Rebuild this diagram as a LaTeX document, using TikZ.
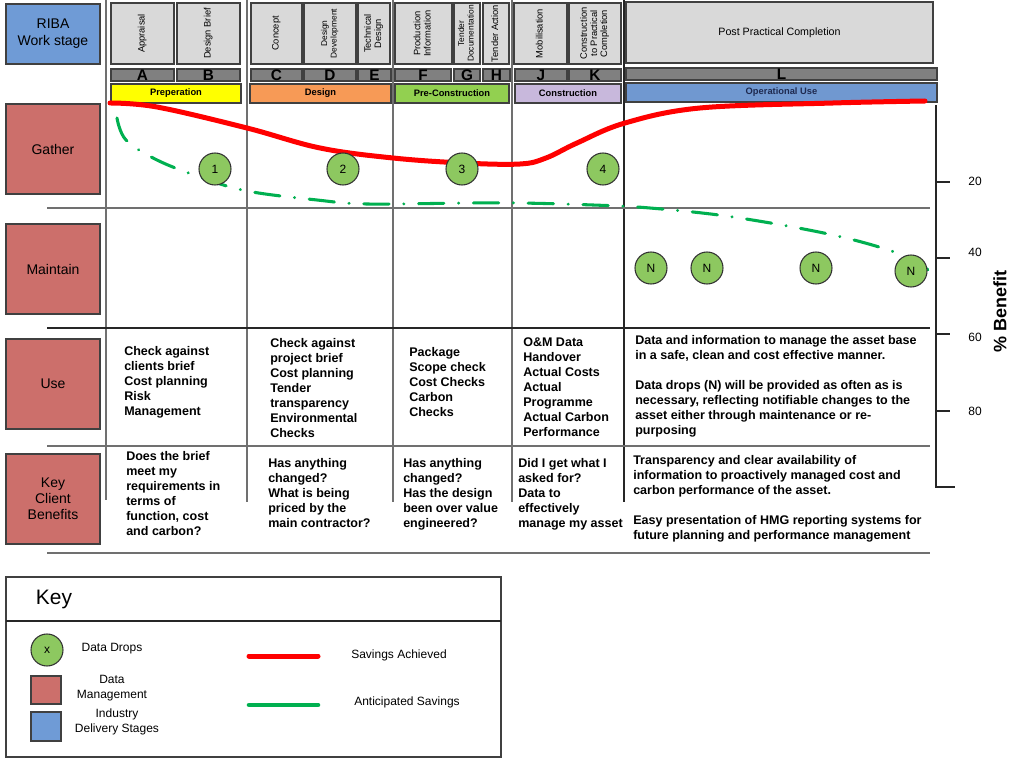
\documentclass[tikz,border=0pt]{standalone}
\usepackage{fontspec}
\setmainfont{Liberation Sans}
\definecolor{ribablue}{HTML}{6F9BD6}
\definecolor{mgmtred}{HTML}{CC6F6B}
\definecolor{hdrgray}{HTML}{D9D9D9}
\definecolor{bargray}{HTML}{808080}
\definecolor{prepyellow}{HTML}{FFFF00}
\definecolor{desorange}{HTML}{F79A56}
\definecolor{pregreen}{HTML}{92D050}
\definecolor{conlilac}{HTML}{C8B8DC}
\definecolor{opblue}{HTML}{7098D0}
\definecolor{dropgreen}{HTML}{8DC860}
\definecolor{savred}{HTML}{FF0000}
\definecolor{antgreen}{HTML}{00B050}
\definecolor{gridgray}{HTML}{707070}
\definecolor{navytxt}{HTML}{1F2A50}
\newcommand\bx[7]{\node[#6, minimum width={(#4-#2)*0.75pt}, minimum height={(#5-#3)*0.75pt}, inner sep=0pt, outer sep=0pt] (#1) at ({(#2+#4)/2},{(#3+#5)/2}) {#7};}
\newcommand\rot[1]{\rotatebox{90}{\begin{tabular}{@{}c@{}}#1\end{tabular}}}
\newcommand\lowlet[1]{\raisebox{-1.5pt}{#1}}
\tikzset{
  boxline/.style={draw=black!75, line width=0.8pt},
  hdrbox/.style={boxline, fill=hdrgray, font=\fontsize{7}{7.6}\selectfont},
  tightfont/.style={font=\fontsize{6.3}{7}\selectfont},
  letterbar/.style={boxline, fill=bargray, font=\fontsize{11.5}{11.5}\selectfont\bfseries},
  stagebar/.style={boxline, font=\fontsize{7}{7.5}\selectfont\bfseries},
  rowlbl/.style={boxline, fill=mgmtred, font=\fontsize{10.5}{12}\selectfont, align=center},
  gridline/.style={draw=gridgray, line width=1.1pt},
  darkline/.style={draw=black!85, line width=0.8pt},
  bodytxt/.style={anchor=north west, align=left, inner sep=0pt, font=\fontsize{9.4}{11.25}\selectfont\bfseries},
  drop/.style={circle, draw=black!80, line width=0.8pt, fill=dropgreen, minimum size=24pt, inner sep=0pt, font=\fontsize{9}{9}\selectfont},
  savline/.style={draw=savred, line width=3.75pt, line cap=round},
  antline/.style={draw=antgreen, line width=2.3pt, line cap=round},
  axislbl/.style={font=\fontsize{9}{10}\selectfont, inner sep=0pt},
  legtxt/.style={font=\fontsize{9}{11}\selectfont, align=center, inner sep=0pt}
}
\begin{document}
\begin{tikzpicture}[x=0.75pt,y=-0.75pt]
\useasboundingbox (0,0) rectangle (1024,763);
\fill[white] (0,0) rectangle (1024,763);

% grid lines
\draw[gridline] (106,0) -- (106,500);
\draw[gridline] (247,0) -- (247,502);
\draw[gridline] (393,0) -- (393,502);
\draw[gridline] (512,0) -- (512,502);
\draw[darkline] (624,0) -- (624,502);
\draw[gridline] (47,208) -- (930,208);
\draw[darkline] (47,328) -- (930,328);
\draw[gridline] (47,446) -- (930,446);
\draw[gridline] (47,553) -- (930,553);

% axis
\draw[darkline] (936,105) -- (936,487) -- (955,487);
\draw[darkline] (936,182) -- (950,182);
\draw[darkline] (936,258) -- (950,258);
\draw[darkline] (936,334) -- (950,334);
\draw[darkline] (936,411) -- (950,411);
\node[axislbl] (t20) at (975,181) {20};
\node[axislbl] (t40) at (975,252) {40};
\node[axislbl] (t60) at (975,337) {60};
\node[axislbl] (t80) at (975,411) {80};
\node[rotate=90, font=\fontsize{13.5}{14}\selectfont\bfseries, inner sep=0pt] (benefit) at (1000,311) {\% Benefit};

% left labels
\bx{riba}{6}{4}{100}{64}{boxline, fill=ribablue, font=\fontsize{10.5}{12.75}\selectfont, align=center}{RIBA\\Work stage}
\bx{gather}{6}{104}{100}{194}{rowlbl}{Gather}
\bx{maintain}{6}{224}{100}{314}{rowlbl}{Maintain}
\bx{use}{6}{339}{100}{429}{rowlbl}{Use}
\bx{kcb}{6}{454}{100}{544}{rowlbl}{Key\\Client\\Benefits}

% header work stages
\bx{h1}{111}{3}{174}{64}{hdrbox}{\rot{Appraisal}}
\bx{h2}{177}{3}{240}{64}{hdrbox}{\rot{Design Brief}}
\bx{h3}{251}{3}{302}{64}{hdrbox}{\rot{Concept}}
\bx{h4}{304}{3}{356}{64}{hdrbox, tightfont}{\rot{Design\\Development}}
\bx{h5}{358}{3}{390}{64}{hdrbox}{\rot{Technical\\Design}}
\bx{h6}{395}{3}{452}{64}{hdrbox}{\rot{Production\\Information}}
\bx{h7}{454}{3}{480}{64}{hdrbox, tightfont}{\rot{Tender\\Documentation}}
\bx{h8}{483}{3}{509}{64}{hdrbox}{\rot{Tender Action}}
\bx{h9}{514}{3}{567}{64}{hdrbox}{\rot{Mobilisation}}
\bx{h10}{569}{3}{621}{64}{hdrbox}{\rot{Construction\\to Practical\\Completion}}
\bx{h11}{626}{2}{933}{63}{hdrbox, font=\fontsize{8}{9}\selectfont}{Post Practical Completion}

% letter bars
\bx{lA}{111}{69}{174}{81}{letterbar}{\lowlet{A}}
\bx{lB}{177}{69}{240}{81}{letterbar}{\lowlet{B}}
\bx{lC}{251}{69}{302}{81}{letterbar}{\lowlet{C}}
\bx{lD}{304}{69}{356}{81}{letterbar}{\lowlet{D}}
\bx{lE}{358}{69}{391}{81}{letterbar}{\lowlet{E}}
\bx{lF}{395}{69}{451}{81}{letterbar}{\lowlet{F}}
\bx{lG}{454}{69}{480}{81}{letterbar}{\lowlet{G}}
\bx{lH}{483}{69}{510}{81}{letterbar}{\lowlet{H}}
\bx{lJ}{515}{69}{567}{81}{letterbar}{\lowlet{J}}
\bx{lK}{569}{69}{621}{81}{letterbar}{\lowlet{K}}
\bx{lL}{626}{68}{937}{80}{letterbar}{\lowlet{L}}

% stage bars
\bx{sPrep}{111}{84}{241}{103}{stagebar, fill=prepyellow}{Preperation}
\bx{sDes}{250}{84}{391}{103}{stagebar, fill=desorange}{Design}
\bx{sPre}{395}{84}{509}{103}{stagebar, fill=pregreen}{Pre-Construction}
\bx{sCon}{515}{84}{621}{103}{stagebar, fill=conlilac}{Construction}
\bx{sOp}{626}{83}{937}{102}{stagebar, fill=opblue, text=navytxt}{Operational Use}

% curves
\draw[antline, dash pattern=on 19pt off 11pt on 0.1pt off 11pt]
  plot[smooth, tension=0.6] coordinates {(117,118) (126,140) (157,160) (200,177) (247,191) (317,200) (367,204) (467,203) (520,203) (593,205) (650,208) (733,217) (833,235) (900,254) (928,270)};
\draw[savline]
  plot[smooth, tension=0.6] coordinates {(110,103) (157,107) (247,128) (320,148) (393,158) (463,163) (520,164) (546,158) (577,143) (625,123) (700,108) (833,103) (925,101)};

% data drops
\node[drop] (d1) at (215,169) {1};
\node[drop] (d2) at (343,169) {2};
\node[drop] (d3) at (462,169) {3};
\node[drop] (d4) at (603,169) {4};
\node[drop] (n1) at (651,268) {N};
\node[drop] (n2) at (707,268) {N};
\node[drop] (n3) at (816,268) {N};
\node[drop] (n4) at (911,271) {N};

% use row texts
\node[bodytxt] (u1) at (124,346) {Check against\\clients brief\\Cost planning\\Risk\\Management};
\node[bodytxt] (u2) at (270,338) {Check against\\project brief\\Cost planning\\Tender\\transparency\\Environmental\\Checks};
\node[bodytxt] (u3) at (409,347) {Package\\Scope check\\Cost Checks\\Carbon\\Checks};
\node[bodytxt] (u4) at (523,337) {O\&M Data\\Handover\\Actual Costs\\Actual\\Programme\\Actual Carbon\\Performance};
\node[bodytxt] (u5) at (635,335) {Data and information to manage the asset base\\in a safe, clean and cost effective manner.\\[11.25pt]Data drops (N) will be provided as often as is\\necessary, reflecting notifiable changes to the\\asset either through maintenance or re-\\purposing};

% key client benefits texts
\node[bodytxt] (k1) at (126,451) {Does the brief\\meet my\\requirements in\\terms of\\function, cost\\and carbon?};
\node[bodytxt] (k2) at (268,458) {Has anything\\changed?\\What is being\\priced by the\\main contractor?};
\node[bodytxt] (k3) at (403,458) {Has anything\\changed?\\Has the design\\been over value\\engineered?};
\node[bodytxt] (k4) at (518,458) {Did I get what I\\asked for?\\Data to\\effectively\\manage my asset};
\node[bodytxt] (k5) at (633,455) {Transparency and clear availability of\\information to proactively managed cost and\\carbon performance of the asset.\\[11.25pt]Easy presentation of HMG reporting systems for\\future planning and performance management};

% key / legend
\bx{keybox}{6}{577}{501}{757}{boxline, fill=none}{}
\draw[darkline] (keybox.west |- 0,621) -- (keybox.east |- 0,621);
\node[font=\fontsize{15.7}{16}\selectfont, inner sep=0pt] (keytitle) at (54,599) {Key};
\node[drop] (legdrop) at (47,650) {x};
\node[legtxt] (legdroptxt) at (112,649) {Data Drops};
\bx{legred}{31}{676}{61}{704}{boxline, fill=mgmtred}{}
\node[legtxt] (legredtxt) at (112,688) {Data\\Management};
\bx{legblue}{31}{712}{61}{741}{boxline, fill=ribablue}{}
\node[legtxt] (legbluetxt) at (117,722) {Industry\\Delivery Stages};
\coordinate (sa1) at (249,656);
\coordinate (sa2) at (318,656);
\draw[savline] (sa1) -- (sa2);
\node[legtxt] (satxt) at (399,655) {Savings Achieved};
\coordinate (as1) at (249,705);
\coordinate (as2) at (318,705);
\draw[antline, line width=3.4pt] (as1) -- (as2);
\node[legtxt] (astxt) at (407,702) {Anticipated Savings};
\end{tikzpicture}
\end{document}
